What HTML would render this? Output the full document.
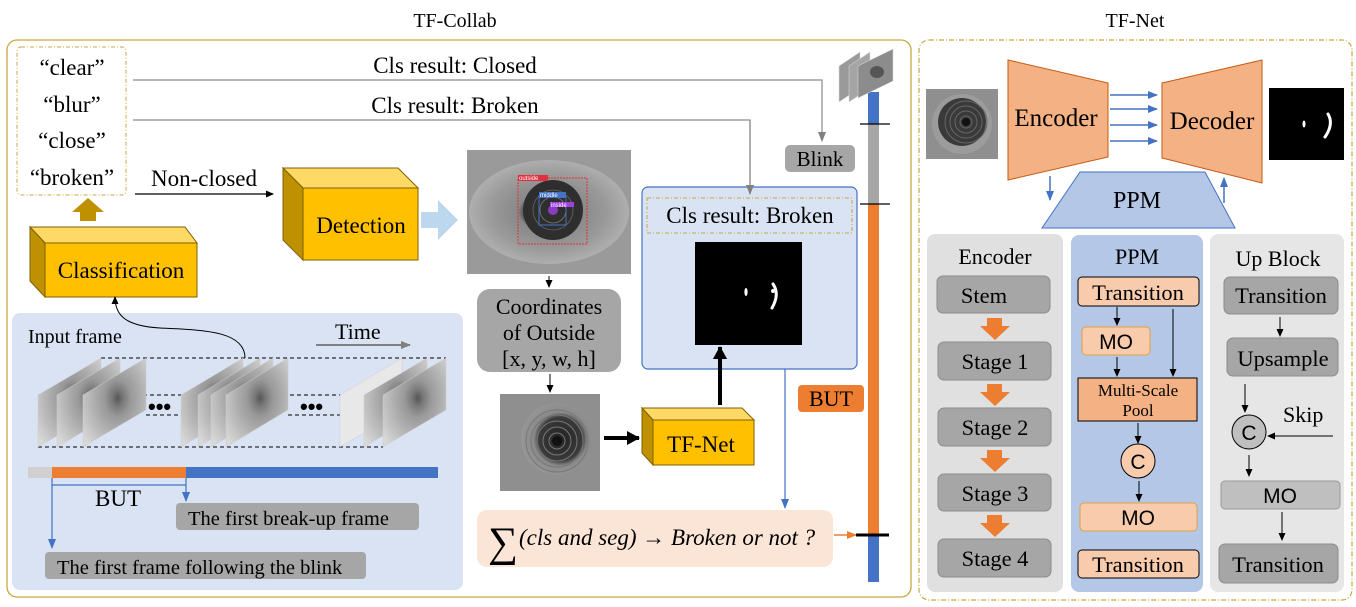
<!DOCTYPE html>
<html><head><meta charset="utf-8"><style>
body{margin:0;background:#fff;width:1356px;height:607px;overflow:hidden}
svg{display:block;font-family:"Liberation Serif",serif}
</style></head><body>
<svg width="1356" height="607" viewBox="0 0 1356 607" xmlns="http://www.w3.org/2000/svg">
<defs>
<marker id="ab" markerWidth="8" markerHeight="8" refX="7" refY="4" orient="auto" markerUnits="userSpaceOnUse"><path d="M0,0.5 L8,4 L0,7.5Z" fill="#000"/></marker>
<marker id="ag" markerWidth="10" markerHeight="10" refX="9" refY="5" orient="auto" markerUnits="userSpaceOnUse"><path d="M0,1 L10,5 L0,9Z" fill="#808080"/></marker>
<marker id="abl" markerWidth="10" markerHeight="10" refX="9" refY="5" orient="auto" markerUnits="userSpaceOnUse"><path d="M0,1 L10,5 L0,9Z" fill="#4472c4"/></marker>
<marker id="aor" markerWidth="10" markerHeight="10" refX="9" refY="5" orient="auto" markerUnits="userSpaceOnUse"><path d="M0,1 L10,5 L0,9Z" fill="#ed7d31"/></marker>
<marker id="abig" markerWidth="14" markerHeight="14" refX="12" refY="7" orient="auto" markerUnits="userSpaceOnUse"><path d="M0,0 L13,7 L0,14Z" fill="#000"/></marker>
<radialGradient id="eye" cx="0.5" cy="0.5" r="0.6"><stop offset="0" stop-color="#333"/><stop offset="0.25" stop-color="#444"/><stop offset="0.32" stop-color="#888"/><stop offset="0.6" stop-color="#9a9a9a"/><stop offset="1" stop-color="#bdbdbd"/></radialGradient>
<radialGradient id="frm" cx="0.55" cy="0.45" r="0.7"><stop offset="0" stop-color="#555"/><stop offset="0.12" stop-color="#777"/><stop offset="0.3" stop-color="#999"/><stop offset="1" stop-color="#d8d8d8"/></radialGradient>
<radialGradient id="crop" cx="0.55" cy="0.5" r="0.6"><stop offset="0" stop-color="#222"/><stop offset="0.5" stop-color="#3a3a3a"/><stop offset="0.62" stop-color="#8a8a8a"/><stop offset="1" stop-color="#9a9a9a"/></radialGradient>
</defs>

<text x="455" y="27" font-size="20" text-anchor="middle">TF-Collab</text>
<text x="1135" y="27" font-size="20" text-anchor="middle">TF-Net</text>

<rect x="7" y="40" width="904" height="557" rx="10" fill="#fff" stroke="#c9a83c" stroke-width="1.3"/>
<rect x="919" y="40" width="433" height="560" rx="10" fill="#fff" stroke="#c9a83c" stroke-width="1.2" stroke-dasharray="5,2,1,2"/>

<rect x="17" y="47" width="109" height="148" rx="4" fill="#fff" stroke="#c9a83c" stroke-dasharray="4,2,1,2"/>
<g font-size="23" text-anchor="middle">
<text x="72" y="75">“clear”</text><text x="72" y="112">“blur”</text><text x="72" y="148">“close”</text><text x="72" y="185">“broken”</text>
</g>

<polyline points="133,80 822,80 822,141" fill="none" stroke="#8a8a8a" stroke-width="1.2" marker-end="url(#ag)"/>
<polyline points="133,120 750,120 750,194" fill="none" stroke="#8a8a8a" stroke-width="1.2" marker-end="url(#ag)"/>
<text x="455" y="73" font-size="23" text-anchor="middle">Cls result: Closed</text>
<text x="455" y="113" font-size="23" text-anchor="middle">Cls result: Broken</text>
<rect x="785" y="145" width="70" height="27" rx="5" fill="#a6a6a6"/>
<text x="820" y="166" font-size="21" text-anchor="middle">Blink</text>

<line x1="135" y1="194" x2="273" y2="194" stroke="#000" stroke-width="1.2" marker-end="url(#ab)"/>
<text x="204" y="186" font-size="23" text-anchor="middle">Non-closed</text>

<path d="M80,221 L80,212 L72,212 L88,198 L104,212 L96,212 L96,221Z" fill="#bf9000"/>

<path d="M30,227 L185,227 L197,243 L45,243Z" fill="#ffd966" stroke="#7f6000"/>
<path d="M30,227 L45,243 L45,297 L30,281Z" fill="#bf9000" stroke="#7f6000"/>
<rect x="45" y="243" width="152" height="54" fill="#ffc000" stroke="#7f6000"/>
<text x="121" y="278" font-size="23" text-anchor="middle">Classification</text>

<path d="M283,168 L398,168 L418,188 L303,188Z" fill="#ffd966" stroke="#7f6000"/>
<path d="M283,168 L303,188 L303,260 L283,240Z" fill="#bf9000" stroke="#7f6000"/>
<rect x="303" y="188" width="115" height="72" fill="#ffc000" stroke="#7f6000"/>
<text x="361" y="233" font-size="23" text-anchor="middle">Detection</text>

<path d="M421,212 L438,212 L438,200 L458,220 L438,240 L438,228 L421,228Z" fill="#bdd7ee"/>

<rect x="467" y="150" width="164" height="124" fill="#9a9a9a"/>
<ellipse cx="549" cy="212" rx="80" ry="52" fill="url(#eye)"/>
<circle cx="553" cy="210" r="30" fill="#2e2e2e"/>
<circle cx="553" cy="210" r="20" fill="none" stroke="#666" stroke-width="0.8"/>
<circle cx="553" cy="210" r="13" fill="none" stroke="#777" stroke-width="0.8"/>
<circle cx="553" cy="210" r="5" fill="#8a3cc0"/>
<rect x="518" y="178" width="69" height="66" fill="none" stroke="#e03040" stroke-dasharray="2,1"/>
<rect x="518" y="175" width="30" height="6" fill="#e03040"/>
<text x="519" y="180" font-size="6" fill="#fff" font-family="Liberation Sans">outside</text>
<rect x="539" y="197" width="27" height="28" fill="none" stroke="#4472c4"/>
<rect x="539" y="192" width="27" height="6" fill="#4472c4"/>
<text x="540" y="197" font-size="6" fill="#fff" font-family="Liberation Sans">middle</text>
<rect x="550" y="202" width="24" height="5" fill="#a040e0"/>
<text x="551" y="207" font-size="6" fill="#fff" font-family="Liberation Sans">inside</text>

<line x1="549" y1="276" x2="549" y2="287" stroke="#000" marker-end="url(#ab)"/>
<rect x="477" y="289" width="144" height="83" rx="13" fill="#a6a6a6"/>
<g font-size="22" text-anchor="middle"><text x="549" y="314">Coordinates</text><text x="549" y="340">of Outside</text><text x="549" y="366">[x, y, w, h]</text></g>
<line x1="550" y1="374" x2="550" y2="392" stroke="#000" marker-end="url(#ab)"/>

<rect x="500" y="394" width="100" height="97" fill="#8f8f8f"/>
<circle cx="557" cy="439" r="36" fill="url(#crop)"/>
<g fill="none" stroke="#777" stroke-width="1"><circle cx="557" cy="441" r="8"/><circle cx="557" cy="441" r="14"/><circle cx="557" cy="441" r="20"/><circle cx="557" cy="441" r="26"/><circle cx="557" cy="441" r="31"/></g>
<circle cx="557" cy="441" r="5" fill="#111"/>

<line x1="604" y1="438" x2="639" y2="438" stroke="#000" stroke-width="4" marker-end="url(#abig)"/>

<path d="M642,408 L742,408 L754,420 L653,420Z" fill="#ffd966" stroke="#7f6000"/>
<path d="M642,408 L653,420 L653,465 L642,453Z" fill="#bf9000" stroke="#7f6000"/>
<rect x="653" y="420" width="101" height="45" fill="#ffc000" stroke="#7f6000"/>
<text x="701" y="452" font-size="23" text-anchor="middle">TF-Net</text>

<rect x="642" y="187" width="215" height="182" rx="6" fill="#dae3f3" stroke="#4472c4" stroke-width="1.2"/>
<rect x="647" y="198" width="205" height="35" fill="none" stroke="#c9a83c" stroke-dasharray="4,2,1,2"/>
<text x="750" y="223" font-size="23" text-anchor="middle">Cls result: Broken</text>
<polyline points="750,120 750,194" fill="none" stroke="#8a8a8a" stroke-width="1.2" marker-end="url(#ag)"/>
<rect x="695" y="242" width="107" height="103" fill="#000"/>
<ellipse cx="746" cy="292" rx="1.6" ry="4" fill="#fff"/>
<path d="M773,284 Q780,294 772,308" fill="none" stroke="#fff" stroke-width="3" stroke-linecap="round"/>
<circle cx="773" cy="291" r="2" fill="#fff"/>
<line x1="720" y1="405" x2="720" y2="347" stroke="#000" stroke-width="4" marker-end="url(#abig)"/>

<line x1="785" y1="369" x2="785" y2="508" stroke="#4472c4" stroke-width="1.2" marker-end="url(#abl)"/>
<rect x="798" y="385" width="66" height="27" rx="4" fill="#ed7d31"/>
<text x="831" y="406" font-size="22" text-anchor="middle">BUT</text>

<rect x="477" y="510" width="356" height="57" rx="10" fill="#fbe5d6"/>
<text x="488" y="556" font-size="42">∑</text>
<text x="519" y="545" font-size="23" font-style="italic">(cls and seg)  → Broken or not ?</text>
<line x1="834" y1="535" x2="856" y2="535" stroke="#ed7d31" stroke-width="1.5" marker-end="url(#aor)"/>

<rect x="868" y="92" width="11" height="32" fill="#4472c4"/>
<rect x="868" y="124" width="11" height="80" fill="#a6a6a6"/>
<rect x="868" y="204" width="11" height="331" fill="#ed7d31"/>
<rect x="868" y="535" width="11" height="47" fill="#4472c4"/>
<line x1="860" y1="124" x2="890" y2="124" stroke="#000" stroke-width="1.2"/>
<line x1="860" y1="204" x2="890" y2="204" stroke="#000" stroke-width="1.2"/>
<line x1="856" y1="535" x2="889" y2="535" stroke="#000" stroke-width="3"/>
<g stroke="#ddd" stroke-width="0.5">
<path d="M839,66 L860,52 L860,88 L839,102Z" fill="#9a9a9a"/>
<path d="M849,66 L870,52 L870,88 L849,102Z" fill="#a5a5a5"/>
<path d="M858,66 L893,49 L893,81 L858,98Z" fill="#8c8c8c"/>
</g>
<ellipse cx="877" cy="72" rx="7" ry="6" fill="#555"/>

<rect x="12" y="313" width="451" height="277" rx="8" fill="#dae3f3"/>
<text x="28" y="343" font-size="20">Input frame</text>
<text x="335" y="339" font-size="22">Time</text>
<line x1="316" y1="345" x2="410" y2="345" stroke="#808080" stroke-width="2" marker-end="url(#ag)"/>
<path d="M245,358 C245,330 200,330 160,328 C125,326 115,315 115,297" fill="none" stroke="#000" stroke-width="1" marker-end="url(#ab)"/>
<g stroke="#000" stroke-dasharray="4,3" stroke-width="1" fill="none">
<line x1="101" y1="358" x2="446" y2="358"/>
<line x1="38" y1="395" x2="383" y2="395"/>
<line x1="146" y1="415" x2="181" y2="415"/>
<line x1="288" y1="415" x2="340" y2="415"/>
<line x1="38" y1="447" x2="383" y2="447"/>
</g>
<g stroke="#ccc" stroke-width="0.5">
<path d="M38,395 L101,358 L101,410 L38,447Z" fill="url(#frm)"/>
<path d="M57,395 L120,358 L120,410 L57,447Z" fill="url(#frm)"/>
<path d="M83,395 L146,358 L146,410 L83,447Z" fill="url(#frm)"/>
<path d="M181,395 L243,358 L243,410 L181,447Z" fill="url(#frm)"/>
<path d="M198,395 L260,358 L260,410 L198,447Z" fill="url(#frm)"/>
<path d="M211,395 L273,358 L273,410 L211,447Z" fill="url(#frm)"/>
<path d="M226,395 L288,358 L288,410 L226,447Z" fill="url(#frm)"/>
<path d="M340,395 L402,358 L402,410 L340,447Z" fill="#e8e8e8"/>
<path d="M364,395 L427,358 L427,410 L364,447Z" fill="url(#frm)"/>
<path d="M383,395 L446,358 L446,410 L383,447Z" fill="url(#frm)"/>
</g>
<g font-size="22" font-weight="bold" font-family="Liberation Sans"><text x="148" y="414">•••</text><text x="300" y="414">•••</text></g>
<rect x="28" y="467" width="24" height="11" fill="#d0d0d0"/>
<rect x="52" y="467" width="134" height="11" fill="#ed7d31"/>
<rect x="186" y="467" width="252" height="11" fill="#4472c4"/>
<polyline points="52,478 52,548" fill="none" stroke="#4472c4" stroke-width="1.2" marker-end="url(#abl)"/>
<polyline points="52,485 186,485" fill="none" stroke="#4472c4" stroke-width="1.2"/>
<polyline points="186,478 186,501" fill="none" stroke="#4472c4" stroke-width="1.2" marker-end="url(#abl)"/>
<text x="118" y="506" font-size="23" text-anchor="middle">BUT</text>
<rect x="176" y="503" width="243" height="27" rx="4" fill="#a6a6a6"/>
<text x="188" y="525" font-size="20.5">The first break-up frame</text>
<rect x="45" y="552" width="321" height="27" rx="4" fill="#a6a6a6"/>
<text x="57" y="574" font-size="20.5">The first frame following the blink</text>

<rect x="926" y="89" width="72" height="70" fill="#8f8f8f"/>
<circle cx="962" cy="124" r="30" fill="#9c9c9c"/>
<circle cx="962" cy="122" r="24" fill="#3a3a3a"/>
<g fill="none" stroke="#666"><circle cx="966" cy="122" r="6"/><circle cx="966" cy="122" r="11"/><circle cx="966" cy="122" r="16"/><circle cx="966" cy="122" r="21"/></g>
<circle cx="966" cy="122" r="4" fill="#111"/>
<path d="M1008,60 L1108,83 L1108,157 L1008,180Z" fill="#f4b183" stroke="#c55a11" stroke-width="1"/>
<text x="1056" y="126" font-size="25" text-anchor="middle">Encoder</text>
<path d="M1162,83 L1262,60 L1262,183 L1162,158Z" fill="#f4b183" stroke="#c55a11" stroke-width="1"/>
<text x="1212" y="129" font-size="25" text-anchor="middle">Decoder</text>
<g stroke="#4472c4" stroke-width="1.5">
<line x1="1110" y1="95" x2="1157" y2="95" marker-end="url(#abl)"/>
<line x1="1110" y1="109" x2="1157" y2="109" marker-end="url(#abl)"/>
<line x1="1110" y1="125" x2="1157" y2="125" marker-end="url(#abl)"/>
<line x1="1110" y1="141" x2="1157" y2="141" marker-end="url(#abl)"/>
<line x1="1050" y1="176" x2="1050" y2="200" marker-end="url(#abl)"/>
<line x1="1224" y1="203" x2="1224" y2="178" marker-end="url(#abl)"/>
</g>
<rect x="1269" y="88" width="75" height="72" fill="#000"/>
<ellipse cx="1304" cy="124" rx="1.5" ry="3.5" fill="#fff"/>
<path d="M1328,114 Q1334,124 1325,137" fill="none" stroke="#fff" stroke-width="3" stroke-linecap="round"/>
<path d="M1080,172 L1205,172 L1235,228 L1042,228Z" fill="#b4c7e7" stroke="#4472c4"/>
<text x="1137" y="208" font-size="24" text-anchor="middle">PPM</text>

<rect x="927" y="234" width="136" height="358" rx="8" fill="#e0e0e0"/>
<rect x="1071" y="235" width="132" height="357" rx="8" fill="#b4c7e7"/>
<rect x="1210" y="234" width="134" height="358" rx="8" fill="#e7e6e6"/>
<g font-size="22" text-anchor="middle">
<text x="995" y="264">Encoder</text><text x="1137" y="264">PPM</text><text x="1278" y="266">Up Block</text>
</g>
<g fill="#a6a6a6" stroke="#8c8c8c">
<rect x="937" y="276" width="113" height="37" rx="6"/>
<rect x="938" y="342" width="113" height="38" rx="6"/>
<rect x="938" y="408" width="113" height="38" rx="6"/>
<rect x="938" y="474" width="113" height="37" rx="6"/>
<rect x="938" y="539" width="113" height="38" rx="6"/>
<rect x="1224" y="277" width="114" height="37" rx="6"/>
<rect x="1227" y="338" width="111" height="38" rx="6"/>
<rect x="1219" y="544" width="119" height="39" rx="6"/>
</g>
<g font-size="22.5" text-anchor="middle">
<text x="984" y="303">Stem</text><text x="995" y="369">Stage 1</text><text x="995" y="435">Stage 2</text><text x="995" y="501">Stage 3</text><text x="995" y="566">Stage 4</text>
<text x="1281" y="303">Transition</text><text x="1283" y="366">Upsample</text><text x="1278" y="572">Transition</text>
</g>
<g fill="#ed7d31">
<path d="M987,318 L1002,318 L1002,326 L1010,326 L995,340 L980,326 L987,326Z"/>
<path d="M987,384 L1002,384 L1002,392 L1010,392 L995,406 L980,392 L987,392Z"/>
<path d="M987,450 L1002,450 L1002,458 L1010,458 L995,472 L980,458 L987,458Z"/>
<path d="M987,515 L1002,515 L1002,523 L1010,523 L995,537 L980,523 L987,523Z"/>
</g>
<rect x="1078" y="277" width="121" height="29" rx="4" fill="#f8cbad" stroke="#000"/>
<text x="1138" y="300" font-size="22.5" text-anchor="middle">Transition</text>
<rect x="1082" y="327" width="68" height="28" rx="4" fill="#f8cbad" stroke="#e0a040"/>
<text x="1116" y="349" font-size="21" text-anchor="middle" font-family="Liberation Sans">MO</text>
<rect x="1078" y="378" width="119" height="43" fill="#f4b183" stroke="#000"/>
<text x="1138" y="396" font-size="17" text-anchor="middle">Multi-Scale</text>
<text x="1138" y="416" font-size="17" text-anchor="middle">Pool</text>
<circle cx="1138" cy="461" r="17" fill="#f8cbad" stroke="#000"/>
<text x="1138" y="469" font-size="21" text-anchor="middle" font-family="Liberation Sans">C</text>
<rect x="1080" y="503" width="117" height="28" rx="4" fill="#f8cbad" stroke="#e0a040"/>
<text x="1138" y="525" font-size="21" text-anchor="middle" font-family="Liberation Sans">MO</text>
<rect x="1078" y="550" width="121" height="28" rx="4" fill="#f8cbad" stroke="#000"/>
<text x="1138" y="572" font-size="22.5" text-anchor="middle">Transition</text>
<g stroke="#000" stroke-width="1">
<line x1="1117" y1="307" x2="1117" y2="325" marker-end="url(#ab)"/>
<line x1="1173" y1="309" x2="1173" y2="376" marker-end="url(#ab)"/>
<line x1="1117" y1="357" x2="1117" y2="376" marker-end="url(#ab)"/>
<line x1="1138" y1="423" x2="1138" y2="443" marker-end="url(#ab)"/>
<line x1="1139" y1="481" x2="1139" y2="501" marker-end="url(#ab)"/>
<line x1="1280" y1="317" x2="1280" y2="336" marker-end="url(#ab)"/>
<line x1="1245" y1="384" x2="1245" y2="412" marker-end="url(#ab)"/>
<line x1="1333" y1="436" x2="1268" y2="436" marker-end="url(#ab)"/>
<line x1="1249" y1="455" x2="1249" y2="476" marker-end="url(#ab)"/>
<line x1="1282" y1="512" x2="1282" y2="540" marker-end="url(#ab)"/>
</g>
<circle cx="1249" cy="432" r="17" fill="#bfbfbf" stroke="#000"/>
<text x="1249" y="440" font-size="21" text-anchor="middle" font-family="Liberation Sans">C</text>
<text x="1283" y="422" font-size="22">Skip</text>
<rect x="1221" y="481" width="119" height="28" rx="4" fill="#bfbfbf" stroke="#999"/>
<text x="1280" y="503" font-size="21" text-anchor="middle" font-family="Liberation Sans">MO</text>
</svg>
</body></html>
